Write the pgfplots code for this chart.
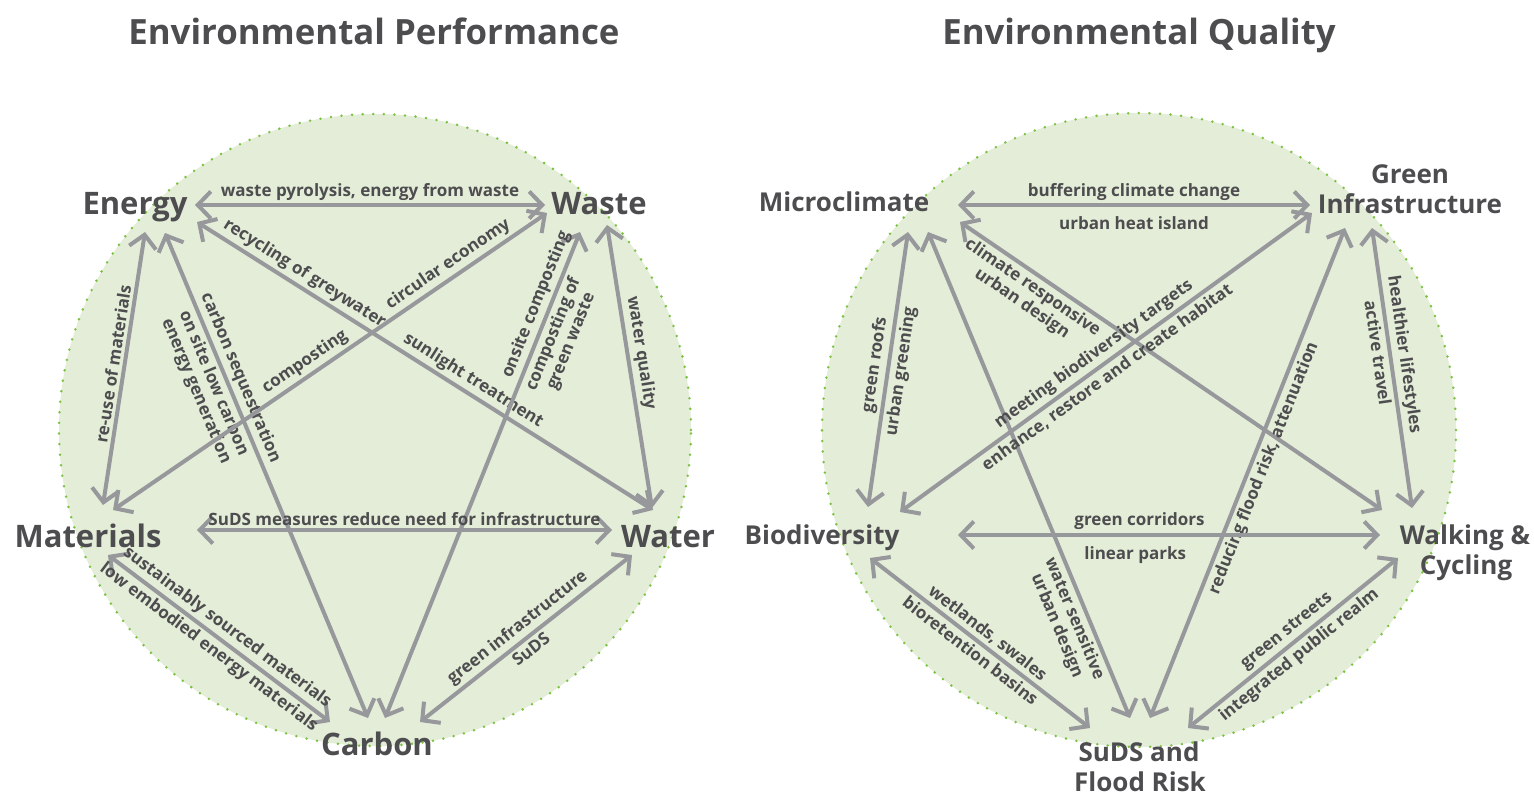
\documentclass[border=0pt]{standalone}
\usepackage{fontspec}
\setmainfont{Open Sans}
\usepackage{pgfplots}
\pgfplotsset{compat=1.18}
\usetikzlibrary{arrows.meta}
\definecolor{txt}{HTML}{4D4D4F}
\definecolor{arr}{HTML}{97989B}
\definecolor{fillg}{HTML}{E4EDD8}
\definecolor{dotg}{HTML}{7CC242}
\begin{document}
\begin{tikzpicture}[
  ar/.style={arr, line width=2pt, {Straight Barb[length=6.5pt,width=13.5pt]}-{Straight Barb[length=6.5pt,width=13.5pt]}},
  lab/.style={txt, font=\fontsize{8.5}{9.5}\selectfont\bfseries, sloped, inner sep=2.3pt, align=center},
  big/.style={txt, font=\fontsize{15.5}{16}\selectfont\bfseries, anchor=base, inner sep=0pt},
  bigr/.style={txt, font=\fontsize{13}{14}\selectfont\bfseries, anchor=base, inner sep=0pt},
  ttl/.style={txt, font=\fontsize{17.4}{18}\selectfont\bfseries, anchor=base, inner sep=0pt}]
\begin{axis}[width=767pt,height=398pt,scale only axis,xmin=0,xmax=1534,ymin=0,ymax=796,
  y dir=reverse,hide axis,clip=false]
\path (axis cs:0,0) rectangle (axis cs:1534,796);
% circles
\fill[fillg] (axis cs:375,430) circle[radius=158pt];
\draw[dotg, line width=1.4pt, line cap=round, dash pattern=on 0pt off 5.3pt] (axis cs:375,430) circle[radius=158pt];
\fill[fillg] (axis cs:1139,430) circle[radius=158.5pt];
\draw[dotg, line width=1.4pt, line cap=round, dash pattern=on 0pt off 5.3pt] (axis cs:1139,430) circle[radius=158.5pt];
% ---------- Environmental Performance ----------
\addplot[ar] coordinates {(195,205) (545,205)};
\path (axis cs:195,205) -- (axis cs:545,205) node[lab,pos=.5,above=-0.5pt]{waste pyrolysis, energy from waste};
\addplot[ar] coordinates {(145,232) (103,505)};
\path (axis cs:145,232) -- (axis cs:103,505) node[lab,pos=.49,above]{re-use of materials};
\addplot[ar] coordinates {(165,233) (368,718)};
\path (axis cs:165,233) -- (axis cs:368,718) node[lab,pos=.31,above]{carbon sequestration}
  node[lab,pos=.30,below]{on site low carbon\\energy generation};
\addplot[ar] coordinates {(197,222) (653,510)};
\path (axis cs:197,222) -- (axis cs:653,510) node[lab,pos=.22,above]{recycling of greywater}
  node[lab,pos=.59,above]{sunlight treatment};
\addplot[ar] coordinates {(547,213) (113,510)};
\path (axis cs:547,213) -- (axis cs:113,510) node[lab,pos=.21,above]{circular economy}
  node[lab,pos=.54,above]{composting};
\addplot[ar] coordinates {(580,232) (385,718)};
\path (axis cs:580,232) -- (axis cs:385,718) node[lab,pos=.16,above]{onsite composting}
  node[lab,pos=.2,below]{composting of\\green waste};
\addplot[ar] coordinates {(607,225) (652,508)};
\path (axis cs:607,225) -- (axis cs:652,508) node[lab,pos=.46,above]{water quality};
\addplot[ar] coordinates {(197,530) (612,530)};
\path (axis cs:197,530) -- (axis cs:612,530) node[lab,pos=.5,above=-0.5pt]{SuDS measures reduce need for infrastructure};
\addplot[ar] coordinates {(108,555) (330,722)};
\path (axis cs:108,555) -- (axis cs:330,722) node[lab,pos=.5,above]{sustainably sourced materials}
  node[lab,pos=.49,below]{low embodied energy materials};
\addplot[ar] coordinates {(632,555) (420,722)};
\path (axis cs:632,555) -- (axis cs:420,722) node[lab,pos=.5,above]{green infrastructure}
  node[lab,pos=.51,below]{SuDS};
% ---------- Environmental Quality ----------
\addplot[ar] coordinates {(958,205) (1310,205)};
\path (axis cs:958,205) -- (axis cs:1310,205) node[lab,pos=.5,above=-0.5pt]{buffering climate change}
  node[lab,pos=.5,below=3.2pt]{urban heat island};
\addplot[ar] coordinates {(908,232) (868,507)};
\path (axis cs:908,232) -- (axis cs:868,507) node[lab,pos=.49,above]{green roofs}
  node[lab,pos=.5,below]{urban greening};
\addplot[ar] coordinates {(928,232) (1130,718)};
\path (axis cs:928,232) -- (axis cs:1130,718) node[lab,pos=.785,below]{water sensitive\\urban design};
\addplot[ar] coordinates {(960,222) (1382,510)};
\path (axis cs:960,222) -- (axis cs:1382,510) node[lab,pos=.19,below]{climate responsive\\urban design};
\addplot[ar] coordinates {(1312,213) (900,512)};
\path (axis cs:1312,213) -- (axis cs:900,512) node[lab,pos=.51,above]{meeting biodiversity targets}
  node[lab,pos=.515,below]{enhance, restore and create habitat};
\addplot[ar] coordinates {(1345,228) (1150,718)};
\path (axis cs:1345,228) -- (axis cs:1150,718) node[lab,pos=.48,below]{reducing flood risk, attenuation};
\addplot[ar] coordinates {(1372,228) (1412,508)};
\path (axis cs:1372,228) -- (axis cs:1412,508) node[lab,pos=.46,above]{healthier lifestyles}
  node[lab,pos=.44,below]{active travel};
\addplot[ar] coordinates {(958,535) (1380,535)};
\path (axis cs:958,535) -- (axis cs:1380,535) node[lab,pos=.43,above=0pt]{green corridors}
  node[lab,pos=.42,below=3.2pt]{linear parks};
\addplot[ar] coordinates {(870,558) (1090,728)};
\path (axis cs:870,558) -- (axis cs:1090,728) node[lab,pos=.5,above]{wetlands, swales}
  node[lab,pos=.49,below]{bioretention basins};
\addplot[ar] coordinates {(1398,558) (1188,728)};
\path (axis cs:1398,558) -- (axis cs:1188,728) node[lab,pos=.49,above]{green streets}
  node[lab,pos=.51,below]{integrated public realm};
% ---------- node names ----------
\node[big] at (axis cs:135,215) {Energy};
\node[big] at (axis cs:599,215) {Waste};
\node[big] at (axis cs:88,547) {Materials};
\node[big] at (axis cs:668,547) {Water};
\node[big] at (axis cs:377,755) {Carbon};
\node[bigr] at (axis cs:844,212) {Microclimate};
\node[bigr] at (axis cs:1410,184) {Green};
\node[bigr] at (axis cs:1410,214) {Infrastructure};
\node[bigr] at (axis cs:822,544) {Biodiversity};
\node[bigr] at (axis cs:1465,544) {Walking \&};
\node[bigr] at (axis cs:1466,574) {Cycling};
\node[bigr] at (axis cs:1139,761) {SuDS and};
\node[bigr] at (axis cs:1140,791) {Flood Risk};
\node[ttl] at (axis cs:374,45) {Environmental Performance};
\node[ttl] at (axis cs:1139,45) {Environmental Quality};
\end{axis}
\end{tikzpicture}
\end{document}
